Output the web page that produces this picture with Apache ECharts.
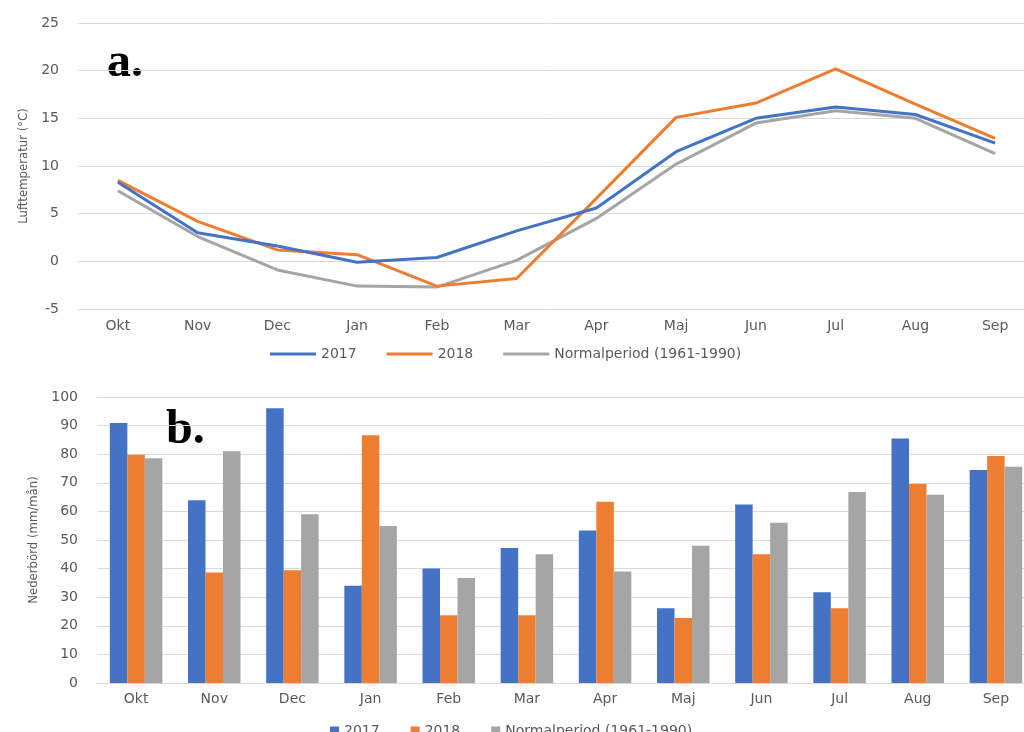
<!DOCTYPE html>
<html>
<head>
<meta charset="utf-8">
<script src="https://cdn.jsdelivr.net/npm/echarts@6/dist/echarts.min.js"></script>
<style>
html,body{margin:0;padding:0;background:#fff;}
#c{width:1024px;height:732px;}
</style>
</head>
<body>
<div id="c"></div>
<script>
const months = ['Okt','Nov','Dec','Jan','Feb','Mar','Apr','Maj','Jun','Jul','Aug','Sep'];
const seriesNames = ['2017','2018','Normalperiod (1961-1990)'];
const temp2017 = [8.3, 3.0, 1.6, -0.1, 0.4, 3.2, 5.6, 11.5, 15.0, 16.2, 15.4, 12.4];
const temp2018 = [8.5, 4.2, 1.2, 0.7, -2.6, -1.8, 6.6, 15.1, 16.6, 20.2, 16.5, 12.9];
const tempNormal = [7.4, 2.6, -0.9, -2.6, -2.7, 0.1, 4.5, 10.2, 14.5, 15.8, 15.0, 11.3];
const prec2017 = [90.9, 63.9, 96.1, 34.0, 40.0, 47.2, 53.3, 26.1, 62.4, 31.7, 85.5, 74.5];
const prec2018 = [79.8, 38.6, 39.4, 86.6, 23.7, 23.7, 63.4, 22.7, 45.0, 26.1, 69.6, 79.4];
const precNormal = [78.6, 81.0, 59.0, 54.9, 36.7, 45.0, 39.0, 48.0, 56.0, 66.8, 65.8, 75.6];
const tempTicks = {min: -5, max: 25, interval: 5};
const precTicks = {min: 0, max: 100, interval: 10};

const colors = ['#4472C4', '#ED7D31', '#A5A5A5'];
const txt = '#595959';
const gridCol = '#D9D9D9';
const font = 'DejaVu Sans';
const nameFont = '"Liberation Sans Narrow", "DejaVu Sans Condensed", sans-serif';

const chart = echarts.init(document.getElementById('c'));
const tempData = [temp2017, temp2018, tempNormal];
const precData = [prec2017, prec2018, precNormal];

const option = {
  animation: false,
  color: colors,
  textStyle: {fontFamily: font, color: txt},
  grid: [
    {left: 78, width: 957, top: 23, height: 286, outerBoundsMode: 'none', containLabel: false},
    {left: 97, width: 938, top: 397, height: 286, outerBoundsMode: 'none', containLabel: false}
  ],
  xAxis: [
    {type: 'category', gridIndex: 0, data: months, boundaryGap: true,
     axisLine: {show: true, lineStyle: {color: gridCol}}, axisTick: {show: false},
     axisLabel: {color: txt, fontSize: 14, margin: 10, fontFamily: font}},
    {type: 'category', gridIndex: 1, data: months, boundaryGap: true,
     axisLine: {show: true, lineStyle: {color: gridCol}}, axisTick: {show: false},
     axisLabel: {color: txt, fontSize: 14, margin: 9, fontFamily: font}}
  ],
  yAxis: [
    {type: 'value', gridIndex: 0, min: tempTicks.min, max: tempTicks.max, interval: tempTicks.interval,
     name: 'Lufttemperatur (°C)', nameLocation: 'middle', nameGap: 48,
     nameTextStyle: {color: txt, fontSize: 13, fontFamily: nameFont},
     axisLine: {show: false}, axisTick: {show: false},
     splitLine: {lineStyle: {color: gridCol, width: 1}},
     axisLabel: {color: txt, fontSize: 14, margin: 19, fontFamily: font}},
    {type: 'value', gridIndex: 1, min: precTicks.min, max: precTicks.max, interval: precTicks.interval,
     name: 'Nederbörd (mm/mån)', nameLocation: 'middle', nameGap: 57,
     nameTextStyle: {color: txt, fontSize: 13, fontFamily: nameFont},
     axisLine: {show: false}, axisTick: {show: false},
     splitLine: {lineStyle: {color: gridCol, width: 1}},
     axisLabel: {color: txt, fontSize: 14, margin: 19, fontFamily: font}}
  ],
  legend: [
    {data: seriesNames, left: 270, top: 347, padding: 0, icon: 'rect', itemWidth: 46, itemHeight: 3,
     itemGap: 30, textStyle: {color: txt, fontSize: 14, fontFamily: font}, selectedMode: false},
    {data: seriesNames, left: 330, top: 724, padding: 0, icon: 'rect', itemWidth: 9, itemHeight: 9,
     itemGap: 31, textStyle: {color: txt, fontSize: 14, fontFamily: font}, selectedMode: false}
  ],
  series: [],
  graphic: [
    {type: 'text', left: 107, top: 40, style: {text: 'a.', font: 'bold 48px "Liberation Serif", serif', fill: '#000'}},
    {type: 'text', left: 166, top: 407, style: {text: 'b.', font: 'bold 48px "Liberation Serif", serif', fill: '#000'}}
  ]
};

seriesNames.forEach((n, i) => {
  option.series.push({
    name: n, type: 'line', xAxisIndex: 0, yAxisIndex: 0, data: tempData[i],
    symbol: 'none', lineStyle: {width: 3, color: colors[i]}, itemStyle: {color: colors[i]}, z: 5 - i
  });
});
seriesNames.forEach((n, i) => {
  option.series.push({
    name: n, type: 'bar', xAxisIndex: 1, yAxisIndex: 1, data: precData[i],
    barWidth: 17.5, barGap: '0%', itemStyle: {color: colors[i]}
  });
});

chart.setOption(option);
</script>
</body>
</html>
